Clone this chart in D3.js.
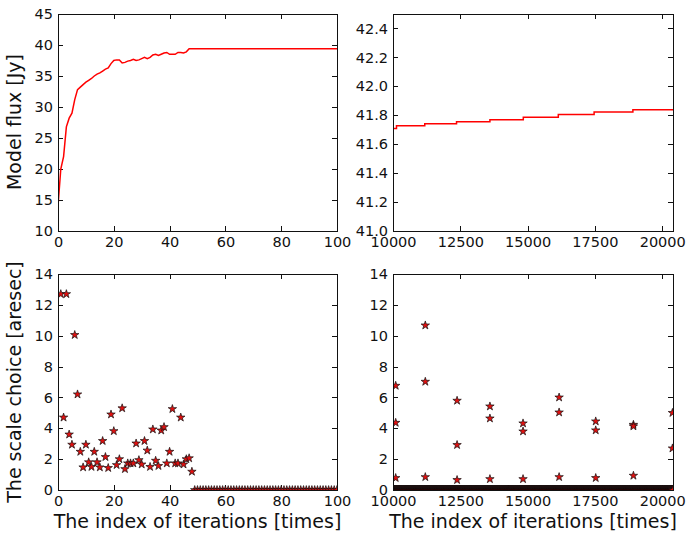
<!DOCTYPE html>
<html>
<head>
<meta charset="utf-8">
<script src="https://cdn.jsdelivr.net/npm/d3@7"></script>
<style>
  body { margin: 0; background: #fff; }
  text { font-family: "DejaVu Sans", sans-serif; fill: #111; }
</style>
</head>
<body>
<div id="chart"></div>
<script>
// model flux over the first 100 iterations
var fluxIter = [0,1,2,3,4,5,6,7,8,9,10,11,12,13,14,15,16,17,18,19,20,21,22,23,24,
                25,26,27,28,29,30,31,32,33,34,35,36,37,38,39,40,41,42,43,44,45,46,47,48,100];
var fluxValue = [14.0,20.0,22.0,26.8,28.2,29.0,31.2,32.8,33.2,33.6,34.0,34.3,34.6,35.0,35.3,
                 35.5,35.8,36.1,36.3,37.0,37.5,37.6,37.6,37.1,37.2,37.4,37.5,37.7,37.5,37.6,
                 37.8,38.0,37.8,38.0,38.4,38.5,38.3,38.5,38.7,38.8,38.5,38.5,38.5,38.8,38.8,
                 38.7,38.9,39.4,39.4,39.4];

// model flux, late iterations (step line)
var lateIter = [10000,10130,11180,12360,13600,14840,16140,17470,18910,20400];
var lateFlux = [41.708,41.727,41.742,41.755,41.769,41.787,41.806,41.822,41.838,41.838];

// scale choice, first iterations
var scaleIter = [1,2,3,4,5,6,7,8,9,10,11,12,13,14,15,16,17,18,19,20,21,22,23,24,
                 25,26,27,28,29,30,31,32,33,34,35,36,37,38,39,40,41,42,43,44,45,46,47,48];
var scaleValue = [12.7,4.7,12.7,3.6,2.94,10.05,6.2,2.48,1.47,2.94,1.8,1.5,2.48,1.8,1.47,3.18,
                  2.14,1.43,4.9,3.82,1.62,2.0,5.3,1.36,1.73,1.73,1.73,3.02,1.94,1.66,3.18,2.56,
                  1.5,3.93,1.9,1.56,3.86,4.08,1.73,2.48,5.25,1.73,1.73,4.7,1.66,2.0,2.06,1.19];
var idleStartLeft = 49;   // from here the scale choice is 0

// scale choice, late iterations
var lateScaleIter = [10100,10100,10100,11200,11200,11200,12380,12380,12380,13600,13600,13600,
                     14830,14830,14830,16170,16170,16170,17530,17530,17530,18930,18930,18930,
                     20380,20380];
var lateScaleValue = [6.76,4.36,0.78,10.67,7.02,0.84,5.79,2.92,0.65,5.42,4.64,0.71,
                      4.32,3.8,0.71,6.0,5.03,0.84,4.45,3.87,0.78,4.23,4.13,0.93,5.0,2.7];
var idleStepRight = 5;    // idle iterations shown as zeros along the bottom

var xTicksEarly = [0,20,40,60,80,100];
var xTicksLate = [10000,12500,15000,17500,20000];
var yTicksFlux = [10,15,20,25,30,35,40,45];
var yTicksLate = [41.0,41.2,41.4,41.6,41.8,42.0,42.2,42.4];
var yTicksScale = [0,2,4,6,8,10,12,14];

var width = 689, height = 535;
var svg = d3.select('#chart').append('svg')
	.attr('width', width)
	.attr('height', height);

var colLeft = [58, 337], colRight = [393, 673];
var rowTop = [14, 231], rowBottom = [274, 490];

var clipId = 0;
function panel(xr, yr, xDomain, yDomain, xTicks, yTicks, yFormat) {
	var x = d3.scaleLinear().domain(xDomain).range(xr);
	var y = d3.scaleLinear().domain(yDomain).range([yr[1], yr[0]]);
	var g = svg.append('g');
	var id = 'clip' + (clipId++);
	g.append('clipPath').attr('id', id)
		.append('rect')
		.attr('x', xr[0]).attr('y', yr[0])
		.attr('width', xr[1] - xr[0]).attr('height', yr[1] - yr[0]);

	var fmt = yFormat || d3.format('d');
	function style(a) {
		a.select('.domain').remove();
		a.selectAll('line').attr('stroke', '#111').attr('shape-rendering', 'crispEdges');
		a.selectAll('text').style('font-size', '14.5px').attr('fill', '#111');
	}
	g.append('g').attr('transform', 'translate(0,' + yr[1] + ')')
		.call(d3.axisBottom(x).tickValues(xTicks).tickSizeInner(-5).tickSizeOuter(0).tickPadding(6).tickFormat(d3.format('d')))
		.call(style);
	g.append('g').attr('transform', 'translate(0,' + yr[0] + ')')
		.call(d3.axisTop(x).tickValues(xTicks).tickSizeInner(-5).tickSizeOuter(0).tickFormat(''))
		.call(style);
	g.append('g').attr('transform', 'translate(' + xr[0] + ',0)')
		.call(d3.axisLeft(y).tickValues(yTicks).tickSizeInner(-5).tickSizeOuter(0).tickPadding(5).tickFormat(fmt))
		.call(style);
	g.append('g').attr('transform', 'translate(' + xr[1] + ',0)')
		.call(d3.axisRight(y).tickValues(yTicks).tickSizeInner(-5).tickSizeOuter(0).tickFormat(''))
		.call(style);

	var plot = g.append('g').attr('clip-path', 'url(#' + id + ')');
	g.append('rect')
		.attr('x', xr[0]).attr('y', yr[0])
		.attr('width', xr[1] - xr[0]).attr('height', yr[1] - yr[0])
		.attr('fill', 'none').attr('stroke', '#111').attr('stroke-width', 1)
		.attr('shape-rendering', 'crispEdges');
	return {x: x, y: y, plot: plot};
}

var star = d3.symbol().type(d3.symbolStar).size(22);
function stars(p, xs, ys) {
	p.plot.selectAll(null)
		.data(xs.map(function(d, i) { return [d, ys[i]]; }))
		.enter().append('path')
		.attr('d', star)
		.attr('transform', function(d) { return 'translate(' + p.x(d[0]) + ',' + p.y(d[1]) + ')'; })
		.attr('fill', '#e01010')
		.attr('stroke', '#111')
		.attr('stroke-width', 0.7);
}

// top left
var tl = panel(colLeft, rowTop, [0, 100], [10, 45], xTicksEarly, yTicksFlux);
tl.plot.append('path')
	.datum(fluxIter.map(function(d, i) { return [d, fluxValue[i]]; }))
	.attr('d', d3.line().x(function(d) { return tl.x(d[0]); }).y(function(d) { return tl.y(d[1]); }))
	.attr('fill', 'none').attr('stroke', 'red').attr('stroke-width', 1.5);

// top right
var tr = panel(colRight, rowTop, [10000, 20400], [41.0, 42.5], xTicksLate, yTicksLate, d3.format('.1f'));
tr.plot.append('path')
	.datum(lateIter.map(function(d, i) { return [d, lateFlux[i]]; }))
	.attr('d', d3.line().curve(d3.curveStepAfter).x(function(d) { return tr.x(d[0]); }).y(function(d) { return tr.y(d[1]); }))
	.attr('fill', 'none').attr('stroke', 'red').attr('stroke-width', 1.5);

// bottom left
var bl = panel(colLeft, rowBottom, [0, 100], [0, 14], xTicksEarly, yTicksScale);
var idleLeft = d3.range(idleStartLeft, 101);
stars(bl, idleLeft, idleLeft.map(function() { return 0; }));
stars(bl, scaleIter, scaleValue);

// bottom right
var br = panel(colRight, rowBottom, [10000, 20400], [0, 14], xTicksLate, yTicksScale);
var idleRight = d3.range(10000, 20401, idleStepRight);
stars(br, idleRight, idleRight.map(function() { return 0; }));
stars(br, lateScaleIter, lateScaleValue);

// axis labels
svg.append('text')
	.attr('transform', 'translate(21,122) rotate(-90)')
	.attr('text-anchor', 'middle')
	.style('font-size', '19px')
	.text('Model flux [Jy]');
svg.append('text')
	.attr('transform', 'translate(21,382) rotate(-90)')
	.attr('text-anchor', 'middle')
	.style('font-size', '19px')
	.text('The scale choice [aresec]');
svg.append('text')
	.attr('x', (colLeft[0] + colLeft[1]) / 2).attr('y', 528)
	.attr('text-anchor', 'middle')
	.style('font-size', '19px')
	.text('The index of iterations [times]');
svg.append('text')
	.attr('x', (colRight[0] + colRight[1]) / 2).attr('y', 528)
	.attr('text-anchor', 'middle')
	.style('font-size', '19px')
	.text('The index of iterations [times]');
</script>
</body>
</html>
